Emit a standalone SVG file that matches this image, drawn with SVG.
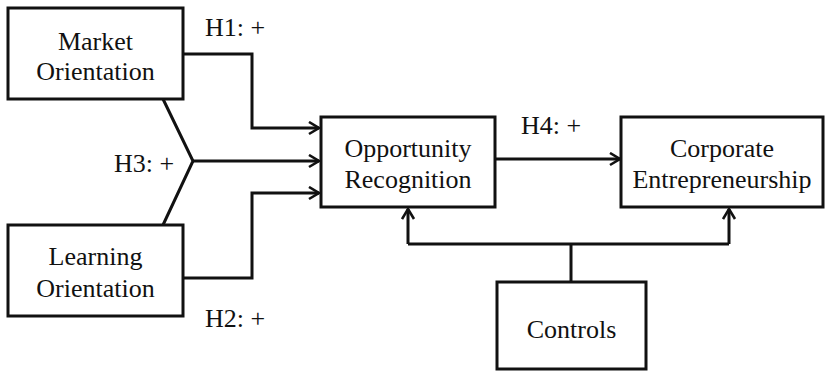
<svg xmlns="http://www.w3.org/2000/svg" width="827" height="372" viewBox="0 0 827 372">
<style>
.box{fill:#fff;stroke:#111;stroke-width:3}
.lbl{font-family:"Liberation Serif","Times New Roman",serif;font-size:26px;fill:#111;text-anchor:middle}
.hyp{font-family:"Liberation Serif","Times New Roman",serif;font-size:26px;fill:#111}
.ln{fill:none;stroke:#111;stroke-width:3;stroke-linejoin:miter}
</style>
<defs>
<marker id="arr" markerUnits="userSpaceOnUse" markerWidth="14" markerHeight="16" refX="11" refY="7" orient="auto">
<path d="M1,1 L11,7 L1,13" fill="none" stroke="#111" stroke-width="2.6"/>
</marker>
</defs>
<rect width="827" height="372" fill="#fff"/>
<g id="connectors">
<path class="ln" d="M183 54 H252 V128 H319" marker-end="url(#arr)"/>
<path class="ln" d="M163 99 L193 161 L163 225"/>
<path class="ln" d="M193 161 H319" marker-end="url(#arr)"/>
<path class="ln" d="M183 278 H252 V193 H319" marker-end="url(#arr)"/>
<path class="ln" d="M495 159 H620" marker-end="url(#arr)"/>
<path class="ln" d="M571 282 V244"/>
<path class="ln" d="M408 244 H729"/>
<path class="ln" d="M408 244 V209" marker-end="url(#arr)"/>
<path class="ln" d="M729 244 V209" marker-end="url(#arr)"/>
</g>
<g id="market">
<rect class="box" x="8" y="8" width="175" height="91"/>
<text class="lbl" x="95.5" y="50">Market</text>
<text class="lbl" x="95.5" y="80">Orientation</text>
</g>
<g id="learning">
<rect class="box" x="8" y="225" width="175" height="91"/>
<text class="lbl" x="95.5" y="265">Learning</text>
<text class="lbl" x="95.5" y="297">Orientation</text>
</g>
<g id="opportunity">
<rect class="box" x="321" y="117" width="174" height="90"/>
<text class="lbl" x="408" y="157">Opportunity</text>
<text class="lbl" x="408" y="188">Recognition</text>
</g>
<g id="corporate">
<rect class="box" x="621" y="117" width="202" height="90"/>
<text class="lbl" x="722" y="157">Corporate</text>
<text class="lbl" x="722" y="188">Entrepreneurship</text>
</g>
<g id="controls">
<rect class="box" x="497" y="282" width="149" height="87"/>
<text class="lbl" x="571.5" y="338">Controls</text>
</g>
<g id="labels">
<text class="hyp" x="205" y="36">H1: +</text>
<text class="hyp" x="114" y="172">H3: +</text>
<text class="hyp" x="205" y="327">H2: +</text>
<text class="hyp" x="521" y="134">H4: +</text>
</g>
</svg>
